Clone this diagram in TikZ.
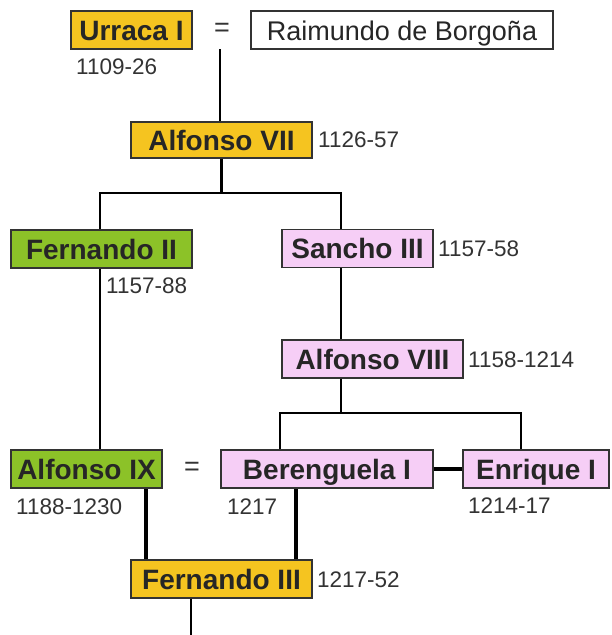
\documentclass[tikz,border=0pt]{standalone}
\usepackage{fontspec}
\setmainfont{Liberation Sans}
\usepackage{tikz}

\definecolor{crowngold}{RGB}{245,196,32}
\definecolor{leongreen}{RGB}{140,194,40}
\definecolor{castilepink}{RGB}{246,206,246}

\begin{document}
\begin{tikzpicture}[x=1pt,y=-1pt]

\tikzset{king/.style = {draw=black!80, line width=1.4pt, minimum height=38pt, inner sep=0pt,
  text=black!85, font=\bfseries\fontsize{28}{30}\selectfont, text height=20pt, text depth=0pt}}
\tikzset{gold/.style = {king, fill=crowngold}}
\tikzset{green/.style = {king, fill=leongreen}}
\tikzset{pink/.style = {king, fill=castilepink}}
\tikzset{spouse/.style = {king, fill=white, font=\fontsize{27}{30}\selectfont}}
\tikzset{wed/.style = {minimum height=38pt, inner sep=0pt, text=black!80, font=\fontsize{27}{30}\selectfont}}
\tikzset{years/.style = {anchor=west, inner sep=0pt, text=black!80, font=\fontsize{22.5}{24}\selectfont}}
\tikzset{line/.style = {line width=2.5pt}}
\tikzset{heir/.style = {line width=4.5pt}}

\useasboundingbox (0,0) rectangle (611,635);

% monarchs
\node[gold, minimum width=121pt] (urraca) at (131.5,30) {Urraca I};
\node[wed] (eq1) at (222,30) {=};
\node[spouse, minimum width=302pt] (raimundo) at (402,30) {Raimundo de Borgoña};
\node[gold, minimum width=181pt, minimum height=36pt] (alf7) at (221.5,140) {Alfonso VII};
\node[green, minimum width=181pt] (fern2) at (101.5,249) {Fernando II};
\node[pink, minimum width=151pt] (sancho) at (357.5,248.5) {Sancho III};
\node[pink, minimum width=181pt] (alf8) at (372.5,359) {Alfonso VIII};
\node[green, minimum width=151pt] (alf9) at (86.5,469) {Alfonso IX};
\node[wed] (eq2) at (192,469) {=};
\node[pink, minimum width=212pt] (beren) at (327,469) {Berenguela I};
\node[pink, minimum width=146pt] (enrique) at (536,469) {Enrique I};
\node[gold, minimum width=181pt] (fern3) at (221.5,579) {Fernando III};

% reigns
\node[years] (y1) at (76,67) {1109-26};
\node[years] (y2) at (318,140) {1126-57};
\node[years] (y3) at (106,286) {1157-88};
\node[years] (y4) at (438,249) {1157-58};
\node[years] (y5) at (468,360) {1158-1214};
\node[years] (y6) at (16,507) {1188-1230};
\node[years] (y7) at (227,507) {1217};
\node[years] (y8) at (468,506) {1214-17};
\node[years] (y9) at (317,580) {1217-52};

% joints
\coordinate (bar1) at (221.5,193);
\coordinate (bar2) at (341,413);
\coordinate (tail) at (191,635);

% descent
\draw[line] ([xshift=-2pt]eq1.south) -- ([xshift=-2pt]eq1.south |- alf7.north);
\draw[line] (alf7.south) -- (bar1);
\draw[line] ([xshift=-1.5pt]fern2.north) |- (bar1) -| ([xshift=-16.5pt]sancho.north);
\draw[line] ([xshift=-16.5pt]sancho.south) -- ([xshift=-16.5pt]sancho.south |- alf8.north);
\draw[line] ([xshift=-31.5pt]alf8.south) -- (bar2);
\draw[line] ([xshift=-47pt]beren.north) |- (bar2) -| ([xshift=-15pt]enrique.north);
\draw[line] ([xshift=-1.5pt]fern2.south) -- ([xshift=-1.5pt]fern2.south |- alf9.north);
\draw[line] ([xshift=-30.5pt]fern3.south) -- (tail);

% heirs
\draw[heir] (beren.east) -- (enrique.west);
\draw[heir] ([xshift=-75.5pt]fern3.north) -- ([xshift=-75.5pt]fern3.north |- alf9.south);
\draw[heir] ([xshift=74.5pt]fern3.north) -- ([xshift=74.5pt]fern3.north |- beren.south);

\end{tikzpicture}
\end{document}
